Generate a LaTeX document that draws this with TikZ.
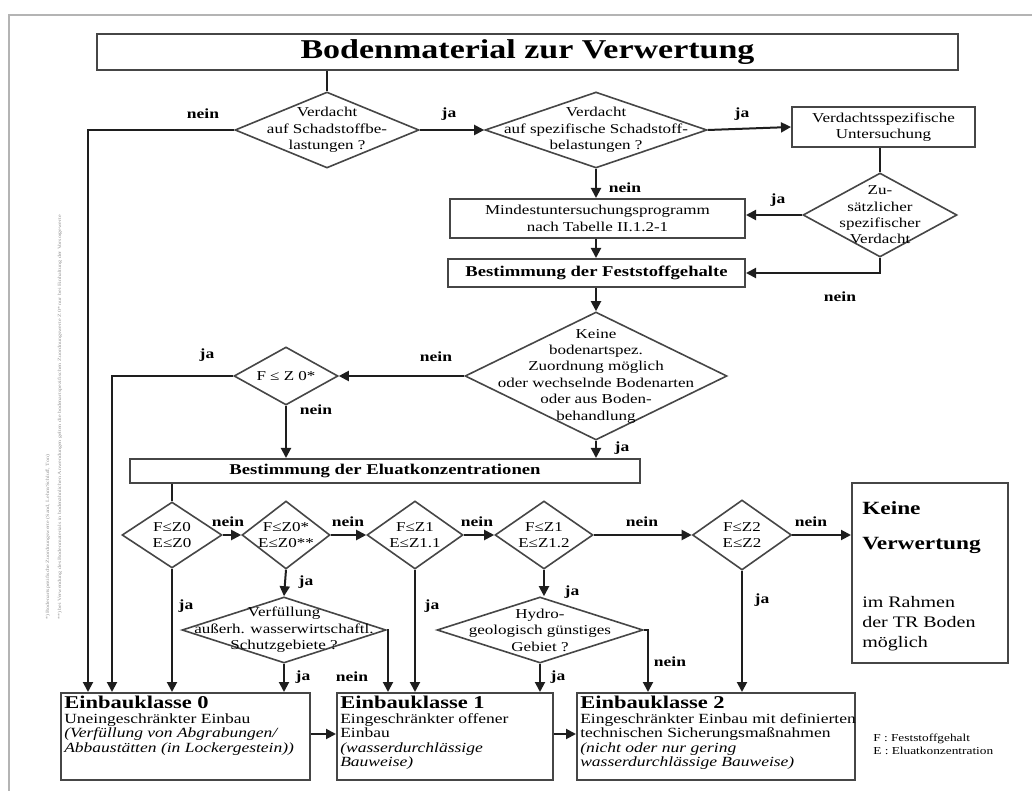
\documentclass[tikz,border=0pt]{standalone}
\usepackage{fontspec}
\setmainfont{Liberation Serif}[FakeStretch=1.25]
\usetikzlibrary{shapes.geometric,arrows.meta}
\definecolor{lc}{RGB}{30,30,30}
\definecolor{bc}{RGB}{70,70,70}
\definecolor{fr}{RGB}{180,180,180}
\definecolor{sidegray}{RGB}{150,150,150}
\newcommand{\fsz}[2]{\fontsize{#1}{#2}\selectfont}
\tikzset{
  dia/.style={draw=bc, line width=1.2pt, diamond, inner sep=0pt},
  dtext/.style={align=center, inner sep=0pt, font=\fsz{10.2}{12.3}},
  box/.style={draw=bc, line width=1.5pt, inner sep=0pt, align=center, font=\fsz{10.2}{12.3}},
  bbox/.style={box, font=\fsz{11.2}{13}\bfseries},
  conn/.style={draw=lc, line width=1.5pt},
  arr/.style={conn, -{Triangle[length=7.5pt,width=7.5pt]}},
  lab/.style={inner sep=0pt, font=\fsz{10.5}{12}\bfseries},
  etext/.style={anchor=north west, align=left, inner sep=0pt, font=\fsz{10.5}{10.9}}
}
\newcommand{\ehd}[1]{{\fsz{13.5}{14}\bfseries #1}}
\begin{document}
\begin{tikzpicture}[x=0.75pt,y=-0.75pt]
\useasboundingbox (0,0) rectangle (1032,791);
\fill[white] (0,0) rectangle (1032,791);
% frame
\draw[fr, line width=1.5pt] (9,791) -- (9,15) -- (1032,15);
% side notes
\node[rotate=90, anchor=west, inner sep=0pt, text=sidegray, font=\fsz{3.6}{4}] (s1) at (48,620) {*) Bodenartspezifische Zuordnungswerte (Sand, Lehm/Schluff, Ton)};
\node[rotate=90, anchor=west, inner sep=0pt, text=sidegray, font=\fsz{3.6}{4}] (s2) at (60,620) {**) bei Verwendung des Bodenmaterials in bodenähnlichen Anwendungen gelten die bodenartspezifischen Zuordnungswerte Z 0* nur bei Einhaltung der Vorsorgewerte};
% title
\node[box, minimum width=645.75pt, minimum height=27pt, font=\fsz{20.4}{22}\bfseries] (title) at (527.5,52) {Bodenmaterial zur Verwertung};
% diamonds
\node[dia, minimum width=138pt, minimum height=57pt] (d1) at (327,130) {};
\node[dtext] (t1) at (d1.center) {Verdacht\\auf Schadstoffbe-\\lastungen ?};
\node[dia, minimum width=166.5pt, minimum height=57pt] (d2) at (596,130) {};
\node[dtext] (t2) at (d2.center) {Verdacht\\auf spezifische Schadstoff-\\belastungen ?};
\node[box, minimum width=137.25pt, minimum height=30pt] (vu) at (883.5,127) {Verdachtsspezifische\\Untersuchung};
\node[dia, minimum width=115.5pt, minimum height=63pt] (d3) at (880,215) {};
\node[dtext] (t3) at (d3.center) {Zu-\\sätzlicher\\spezifischer\\Verdacht};
\node[box, minimum width=221.25pt, minimum height=29.25pt] (mind) at (597.5,218.5) {Mindestuntersuchungsprogramm\\nach Tabelle II.1.2-1};
\node[bbox, minimum width=222.75pt, minimum height=21pt] (fest) at (596.5,273) {Bestimmung der Feststoffgehalte};
\node[dia, minimum width=196.5pt, minimum height=96pt] (d4) at (596,376) {};
\node[dtext] (t4) at (d4.center) {Keine\\bodenartspez.\\Zuordnung möglich\\oder wechselnde Bodenarten\\oder aus Boden-\\behandlung};
\node[dia, minimum width=78pt, minimum height=43.5pt] (d5) at (286,376) {};
\node[dtext] (t5) at (d5.center) {F ≤ Z 0*};
\node[bbox, minimum width=382.5pt, minimum height=18pt] (elu) at (385,471) {Bestimmung der Eluatkonzentrationen};
% row of decisions
\node[dia, minimum width=75pt, minimum height=49.5pt] (d6) at (172,535) {};
\node[dtext] (t6) at (d6.center) {F≤Z0\\E≤Z0};
\node[dia, minimum width=66pt, minimum height=51pt] (d7) at (286,535) {};
\node[dtext] (t7) at (d7.center) {F≤Z0*\\E≤Z0**};
\node[dia, minimum width=72pt, minimum height=51pt] (d8) at (415,535) {};
\node[dtext] (t8) at (d8.center) {F≤Z1\\E≤Z1.1};
\node[dia, minimum width=73.5pt, minimum height=51pt] (d9) at (544,535) {};
\node[dtext] (t9) at (d9.center) {F≤Z1\\E≤Z1.2};
\node[dia, minimum width=74.25pt, minimum height=52.5pt] (d10) at (742,535) {};
\node[dtext] (t10) at (d10.center) {F≤Z2\\E≤Z2};
\node[box, minimum width=117pt, minimum height=135pt] (keine) at (930,573) {};
\node[anchor=west, inner sep=0pt, font=\fsz{14}{16}\bfseries] (k1) at (862,508) {Keine};
\node[anchor=west, inner sep=0pt, font=\fsz{14}{16}\bfseries] (k2) at (862,545) {Verwertung};
\node[anchor=north west, align=left, inner sep=0pt, font=\fsz{12}{15}] (k3) at (862,596) {im Rahmen\\der TR Boden\\möglich};
\node[dia, minimum width=153pt, minimum height=49.5pt] (d11) at (284,630) {};
\node[dtext] (t11) at (d11.center) {Verfüllung\\außerh. wasserwirtschaftl.\\Schutzgebiete ?};
\node[dia, minimum width=154.5pt, minimum height=49.5pt] (d12) at (540,630) {};
\node[dtext] (t12) at (d12.center) {Hydro-\\geologisch günstiges\\Gebiet ?};
% Einbauklassen
\node[box, minimum width=186.75pt, minimum height=65.25pt] (e0) at (185.5,736.5) {};
\node[box, minimum width=162pt, minimum height=65.25pt] (e1) at (445,736.5) {};
\node[box, minimum width=208.5pt, minimum height=65.25pt] (e2) at (716,736.5) {};
\node[etext] (et0) at (64,696) {\ehd{Einbauklasse 0}\\Uneingeschränkter Einbau\\\textit{(Verfüllung von Abgrabungen/}\\\textit{Abbaustätten (in Lockergestein))}};
\node[etext] (et1) at (340,696) {\ehd{Einbauklasse 1}\\Eingeschränkter offener\\Einbau\\\textit{(wasserdurchlässige}\\\textit{Bauweise)}};
\node[etext] (et2) at (580,696) {\ehd{Einbauklasse 2}\\Eingeschränkter Einbau mit definierten\\technischen Sicherungsmaßnahmen\\\textit{(nicht oder nur gering}\\\textit{wasserdurchlässige Bauweise)}};
% legend
\node[anchor=north west, align=left, inner sep=0pt, font=\fsz{8}{9.75}] (leg) at (873,734) {F : Feststoffgehalt\\E : Eluatkonzentration};
% helper coordinates
\coordinate (xa) at (88,0);
\coordinate (xb) at (112,0);
\coordinate (xc) at (388,0);
\coordinate (xd) at (648,0);
\coordinate (ya) at (0,734);
% connectors
\draw[conn] (title.south -| d1.north) -- (d1.north);
\draw[arr] (d1.west) -| (xa |- e0.north);
\draw[arr] (d1.east) -- (d2.west);
\draw[arr] (d2.east) -- (vu.west);
\draw[conn] (vu.south -| d3.north) -- (d3.north);
\draw[arr] (d3.west) -- (d3.west -| mind.east);
\draw[arr] (d3.south) |- (fest.east);
\draw[arr] (d2.south) -- (d2.south |- mind.north);
\draw[arr] (mind.south -| d4.north) -- (fest.north -| d4.north);
\draw[arr] (fest.south -| d4.north) -- (d4.north);
\draw[arr] (d4.west) -- (d5.east);
\draw[arr] (d5.west) -| (xb |- e0.north);
\draw[arr] (d5.south) -- (d5.south |- elu.north);
\draw[arr] (d4.south) -- (d4.south |- elu.north);
\draw[conn] (elu.south -| d6.north) -- (d6.north);
\draw[arr] (d6.east) -- (d7.west);
\draw[arr] (d6.south) -- (d6.south |- e0.north);
\draw[arr] (d7.east) -- (d8.west);
\draw[arr] (d7.south) -- (d11.north);
\draw[arr] (d8.east) -- (d9.west);
\draw[arr] (d8.south) -- (d8.south |- e1.north);
\draw[arr] (d9.east) -- (d10.west);
\draw[arr] (d9.south) -- (d9.south |- d12.north);
\draw[arr] (d10.east) -- (d10.east -| keine.west);
\draw[arr] (d10.south) -- (d10.south |- e2.north);
\draw[arr] (d11.south) -- (d11.south |- e0.north);
\draw[arr] (d11.east) -| (xc |- e1.north);
\draw[arr] (d12.south) -- (d12.south |- e1.north);
\draw[arr] (d12.east) -| (xd |- e2.north);
\draw[arr] (e0.east |- ya) -- (e1.west |- ya);
\draw[arr] (e1.east |- ya) -- (e2.west |- ya);
% labels
\node[lab] (l1) at (203,114) {nein};
\node[lab] (l2) at (449,114) {ja};
\node[lab] (l3) at (742,114) {ja};
\node[lab] (l4) at (625,188) {nein};
\node[lab] (l5) at (778,200) {ja};
\node[lab] (l6) at (840,297) {nein};
\node[lab] (l7) at (436,357) {nein};
\node[lab] (l8) at (207,355) {ja};
\node[lab] (l9) at (316,410) {nein};
\node[lab] (l10) at (622,448) {ja};
\node[lab] (l11) at (228,522) {nein};
\node[lab] (l12) at (348,522) {nein};
\node[lab] (l13) at (477,522) {nein};
\node[lab] (l14) at (642,522) {nein};
\node[lab] (l15) at (811,522) {nein};
\node[lab] (l16) at (186,606) {ja};
\node[lab] (l17) at (306,582) {ja};
\node[lab] (l18) at (432,606) {ja};
\node[lab] (l19) at (572,592) {ja};
\node[lab] (l20) at (762,600) {ja};
\node[lab] (l21) at (303,677) {ja};
\node[lab] (l22) at (352,677) {nein};
\node[lab] (l23) at (558,677) {ja};
\node[lab] (l24) at (670,662) {nein};
\end{tikzpicture}
\end{document}
